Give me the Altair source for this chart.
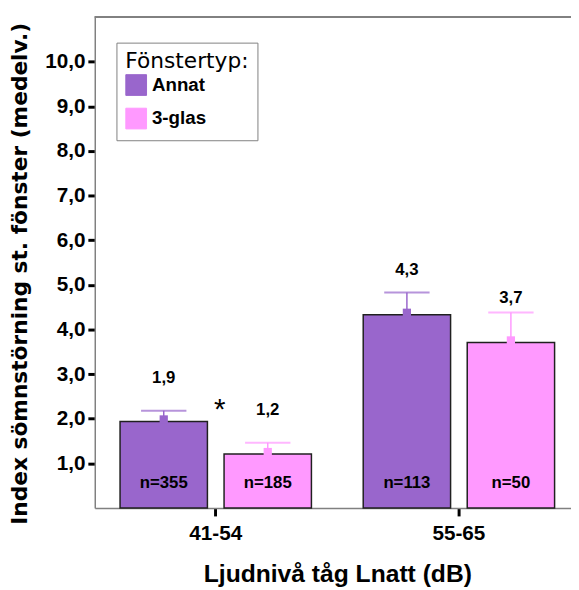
import altair as alt
import pandas as pd

groups = ["41-54", "41-54", "55-65", "55-65"]
types = ["Annat", "3-glas", "Annat", "3-glas"]
means = [1.94, 1.21, 4.33, 3.71]
upper = [2.18, 1.46, 4.83, 4.38]
value_labels = ["1,9", "1,2", "4,3", "3,7"]
label_y = [2.92, 2.19, 5.32, 4.70]
n_labels = ["n=355", "n=185", "n=113", "n=50"]
n_y = [0.55, 0.55, 0.55, 0.55]
star_group = ["41-54"]
star_y = [2.32]
type_order = ["Annat", "3-glas"]
colors = ["#9966CC", "#FF99FF"]
y_ticks = [1, 2, 3, 4, 5, 6, 7, 8, 9, 10]

df = pd.DataFrame({"group": groups, "type": types, "mean": means, "upper": upper,
                   "vlab": value_labels, "vy": label_y, "nlab": n_labels, "ny": n_y})
star_df = pd.DataFrame({"group": star_group, "y": star_y, "t": ["*"]})

FONT = "Liberation Sans"

x_enc = alt.X("group:N", sort=["41-54", "55-65"],
              scale=alt.Scale(range=[0, 492], paddingInner=0.213, paddingOuter=0.104),
              axis=alt.Axis(title="Ljudnivå tåg Lnatt (dB)", labelAngle=0, labelFontSize=21,
                            labelFont=FONT, labelFontWeight="bold", labelColor="black",
                            labelPadding=7,
                            titleFontSize=25, titleFont=FONT, titleFontWeight="bold",
                            titleColor="black", titleX=246, titleY=67, titleBaseline="middle",
                            tickColor="black", tickWidth=3, tickSize=8,
                            domainColor="#808080", domainWidth=1.5))
xo = alt.XOffset("type:N", sort=type_order, scale=alt.Scale(paddingInner=0.16, paddingOuter=0))
y_scale = alt.Scale(domain=[0, 11], nice=False)
y_axis = alt.Axis(title="Index sömnstörning st. fönster (medelv.)", values=y_ticks,
                  labelExpr="replace(format(datum.value, '.1f'), '.', ',')",
                  labelFontSize=21, labelFont=FONT, labelFontWeight="bold", labelColor="black",
                  labelPadding=3,
                  titleFontSize=22, titleFont="DejaVu Sans", titleFontWeight="bold",
                  titleColor="black",
                  titleX=-76, titleY=260, titleBaseline="middle",
                  tickColor="black", tickWidth=3, tickSize=7, grid=False,
                  domainColor="#808080", domainWidth=1.5)
color_scale = alt.Scale(domain=type_order, range=colors)

base = alt.Chart(df)

bars = base.mark_bar(stroke="#202020", strokeWidth=1.5).encode(
    x=x_enc, xOffset=xo,
    y=alt.Y("mean:Q", scale=y_scale, axis=y_axis),
    color=alt.Color("type:N", scale=color_scale, sort=type_order,
                    legend=alt.Legend(title="Fönstertyp:", orient="none", legendX=22, legendY=26,
                                      titleFontSize=22, titleFont="DejaVu Sans",
                                      titleFontWeight="normal",
                                      titleColor="black", labelFontSize=19, labelFont=FONT,
                                      labelFontWeight="bold", labelColor="black",
                                      symbolType="square", symbolSize=441,
                                      symbolStrokeColor="black", symbolStrokeWidth=1,
                                      symbolOpacity=1, rowPadding=8, titlePadding=1,
                                      strokeColor="#808080", fillColor="white", padding=9,
                                      labelOffset=5)),
)

err = base.mark_rule(strokeWidth=1.5).encode(
    x=x_enc, xOffset=xo, y=alt.Y("mean:Q", scale=y_scale), y2="upper:Q",
    color=alt.Color("type:N", scale=color_scale, legend=None))

cap = base.mark_tick(size=46, thickness=2).encode(
    x=x_enc, xOffset=xo, y=alt.Y("upper:Q", scale=y_scale),
    color=alt.Color("type:N", scale=color_scale, legend=None))

nub = base.mark_square(size=70, opacity=1, yOffset=-2).encode(
    x=x_enc, xOffset=xo, y=alt.Y("mean:Q", scale=y_scale),
    color=alt.Color("type:N", scale=color_scale, legend=None))

vtext = base.mark_text(fontSize=17, font=FONT, fontWeight="bold", color="black",
                       baseline="middle").encode(
    x=x_enc, xOffset=xo, y=alt.Y("vy:Q", scale=y_scale), text="vlab:N")

ntext = base.mark_text(fontSize=17, font=FONT, fontWeight="bold", color="black",
                       baseline="middle").encode(
    x=x_enc, xOffset=xo, y=alt.Y("ny:Q", scale=y_scale), text="nlab:N")

star = alt.Chart(star_df).mark_text(fontSize=30, font=FONT, color="black",
                                    baseline="middle", dx=4, dy=6).encode(
    x=x_enc, y=alt.Y("y:Q", scale=y_scale), text="t:N")

top = alt.Chart(df).mark_rule(color="#808080", strokeWidth=1.5).encode(
    x=alt.value(0), x2=alt.value(492), y=alt.value(0))

chart = alt.layer(bars, err, cap, nub, vtext, ntext, star, top).properties(
    width=475, height=498,
    autosize=alt.AutoSizeParams(type="none"),
    padding={"left": 88, "top": 5, "right": 8, "bottom": 79},
    background="white",
).configure_view(stroke=None)

chart.save("out.html", embed_options={"renderer": "svg", "actions": False})
